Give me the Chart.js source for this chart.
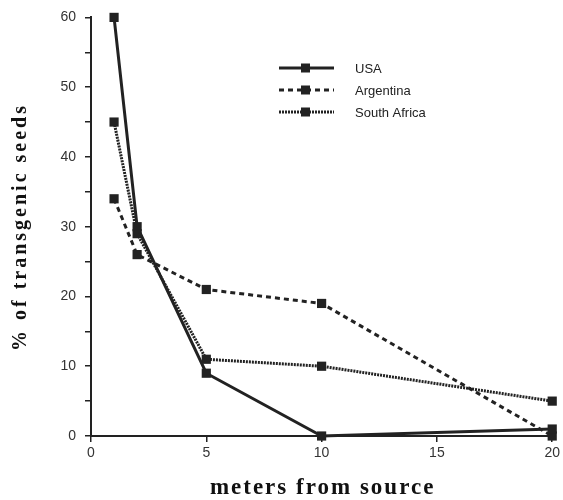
<!DOCTYPE html>
<html>
<head>
<meta charset="utf-8">
<script src="https://cdn.jsdelivr.net/npm/chart.js@4"></script>
<style>
  body { margin: 0; background: #fff; }
  #wrap { width: 563px; height: 500px; }
</style>
</head>
<body>
<div id="wrap"><canvas id="chart" width="563" height="500"></canvas></div>
<script>
// meters from source
let distances = [1, 2, 5, 10, 20];
// % of transgenic seeds
let usa = [60, 30, 9, 0, 1];
let argentina = [34, 26, 21, 19, 0];
let southAfrica = [45, 29, 11, 10, 5];
let xTicks = [0, 5, 10, 15, 20];
let yTicks = [0, 10, 20, 30, 40, 50, 60];

let seriesNames = ['USA', 'Argentina', 'South Africa'];
let dashes = [[], [5, 4], [2, 1]];
let xTitle = 'meters from source';
let yTitle = '% of transgenic seeds';

function toPoints(values) {
    return distances.map((d, i) => ({ x: d, y: values[i] }));
}

function makeDataset(label, values, dash) {
    return {
        label: label,
        data: toPoints(values),
        borderColor: '#222',
        backgroundColor: '#222',
        borderWidth: 3,
        borderDash: dash,
        pointStyle: 'rect',
        pointRadius: 6.5,
        pointBorderWidth: 0,
        tension: 0,
        clip: false
    };
}

// legend drawn inside the plot, plus the spaced-out serif axis titles
const extras = {
    id: 'extras',
    afterDraw(chart) {
        let ctx = chart.ctx;
        let area = chart.chartArea;
        ctx.save();
        seriesNames.forEach((name, i) => {
            let y = 68 + i * 22;
            ctx.strokeStyle = '#222';
            ctx.lineWidth = 3;
            ctx.setLineDash(dashes[i]);
            ctx.beginPath();
            ctx.moveTo(279, y);
            ctx.lineTo(334, y);
            ctx.stroke();
            ctx.setLineDash([]);
            ctx.fillStyle = '#222';
            ctx.fillRect(301, y - 4.5, 9, 9);
            ctx.font = '13px "Liberation Sans", Arial, sans-serif';
            ctx.textBaseline = 'middle';
            ctx.textAlign = 'left';
            ctx.fillText(name, 355, y + 1);
        });

        ctx.fillStyle = '#111';
        ctx.textAlign = 'center';
        ctx.textBaseline = 'middle';
        ctx.font = 'bold 23px "Liberation Serif", "Times New Roman", serif';
        ctx.letterSpacing = '2px';
        ctx.fillText(xTitle, (area.left + area.right) / 2 + 1, 488);

        ctx.font = 'bold 20px "Liberation Serif", "Times New Roman", serif';
        ctx.letterSpacing = '3px';
        ctx.translate(21, 227);
        ctx.rotate(-Math.PI / 2);
        ctx.fillText(yTitle, 0, 0);
        ctx.restore();
    }
};

let tickFont = { size: 14, family: '"Liberation Sans", Arial' };

let ctx = document.getElementById('chart').getContext('2d');
new Chart(ctx, {
    type: 'line',
    data: {
        datasets: [
            makeDataset(seriesNames[0], usa, dashes[0]),
            makeDataset(seriesNames[1], argentina, dashes[1]),
            makeDataset(seriesNames[2], southAfrica, dashes[2])
        ]
    },
    options: {
        responsive: false,
        animation: false,
        layout: { padding: { top: 17, right: 6, left: 0, bottom: 0 } },
        plugins: {
            legend: { display: false },
            tooltip: { enabled: false }
        },
        scales: {
            x: {
                type: 'linear',
                min: 0,
                max: 20,
                afterBuildTicks: scale => { scale.ticks = xTicks.map(v => ({ value: v })); },
                grid: { drawOnChartArea: false, tickLength: 6, color: '#222', lineWidth: 1.5 },
                border: { color: '#222', width: 2 },
                ticks: { color: '#333', font: tickFont, padding: 3, maxRotation: 0 },
                afterFit: scale => { scale.height = 64; }
            },
            y: {
                min: 0,
                max: 60,
                ticks: {
                    stepSize: 5,
                    color: '#333',
                    font: tickFont,
                    padding: 9,
                    callback: v => yTicks.includes(v) ? v : ''
                },
                grid: { drawOnChartArea: false, tickLength: 6, color: '#222', lineWidth: 1.5 },
                border: { color: '#222', width: 2 },
                afterFit: scale => { scale.width = 91; }
            }
        }
    },
    plugins: [extras]
});
</script>
</body>
</html>
